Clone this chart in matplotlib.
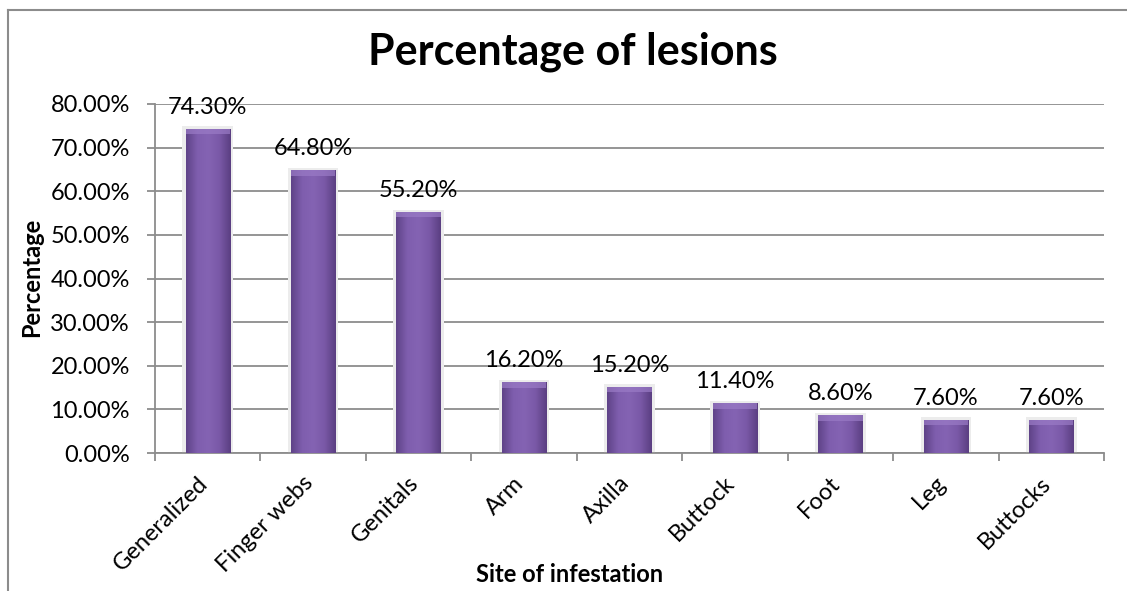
import numpy as np
import matplotlib
matplotlib.use("Agg")
import matplotlib.pyplot as plt
from matplotlib.transforms import ScaledTranslation
from matplotlib.colors import LinearSegmentedColormap
from matplotlib.patches import Rectangle

sites = ["Generalized", "Finger webs", "Genitals", "Arm", "Axilla",
         "Buttock", "Foot", "Leg", "Buttocks"]
pct = [74.3, 64.8, 55.2, 16.2, 15.2, 11.4, 8.6, 7.6, 7.6]
yticks = [0, 10, 20, 30, 40, 50, 60, 70, 80]

plt.rcParams['font.family'] = ['Lato', 'DejaVu Sans']
fs = 17

fig = plt.figure(figsize=(11.27, 5.91), dpi=100)
ax = fig.add_axes([155/1127, 1 - 453/591, (1104 - 155)/1127, (453 - 104)/591])

x = np.arange(len(sites))
w = 0.42
# soft light halo behind bars
ax.bar(x, [v + 0.6 for v in pct], width=w + 0.06, color='#ececec', edgecolor='none', zorder=1.5)
bars = ax.bar(x, pct, width=w, color='#7a58a5', edgecolor='none', zorder=2)

# horizontal shading on each bar (darker edges, lighter middle)
cmap = LinearSegmentedColormap.from_list("bev", ["#5f4388", "#7f5eae", "#8463b3", "#7a59a7", "#5b3f82"])
grad = np.linspace(0, 1, 64).reshape(1, -1)
for b in bars:
    bx, bw, bh = b.get_x(), b.get_width(), b.get_height()
    im = ax.imshow(grad, cmap=cmap, aspect='auto', extent=[bx, bx + bw, 0, bh],
                   zorder=3, interpolation='bicubic')
    im.set_clip_path(b)
    # subtle lighter bevel at the top
    ax.add_patch(Rectangle((bx, bh - 1.2), bw, 1.2,
                           facecolor='#9a7bc6', edgecolor='none', zorder=4, alpha=0.7))

for xi, v in zip(x, pct):
    ax.annotate(f"{v:.2f}%", (xi, v), xytext=(0, 8), textcoords='offset points',
                ha='center', va='bottom', fontsize=fs, color='black')

ax.set_xlim(-0.5, len(sites) - 0.5)
ax.set_ylim(0, 80)
ax.set_yticks(yticks)
ax.set_yticklabels([f"{t:.2f}%" for t in yticks], fontsize=fs)
ax.yaxis.grid(True, color='#8c8c8c', linewidth=1.3, zorder=0)
ax.set_axisbelow(True)

ax.set_xticks(x)
ax.set_xticklabels(sites, rotation=45, ha='right', rotation_mode='anchor', fontsize=fs)
ax.set_xticks(np.arange(len(sites) + 1) - 0.5, minor=True)
ax.tick_params(axis='x', which='major', length=0, pad=14)
ax.tick_params(axis='x', which='minor', length=6, width=1.3, color='#8c8c8c')
ax.tick_params(axis='y', length=6, width=1.3, color='#8c8c8c', pad=12)
off = ScaledTranslation(-8/72, 0, fig.dpi_scale_trans)
for lab in ax.get_xticklabels():
    lab.set_transform(lab.get_transform() + off)

for s in ['top', 'right']:
    ax.spines[s].set_visible(False)
for s in ['left', 'bottom']:
    ax.spines[s].set_color('#8c8c8c')
    ax.spines[s].set_linewidth(1.3)

fig.text(573/1127, 1 - 52/591, "Percentage of lesions", ha='center', va='center',
         fontsize=31, fontweight='bold')
fig.text(32/1127, 1 - 277/591, "Percentage", rotation=90, ha='center', va='center',
         fontsize=fs, fontweight='bold')
fig.text(570/1127, 1 - 575/591, "Site of infestation", ha='center', va='center',
         fontsize=fs, fontweight='bold')

# outer chart border (left and top visible)
fig.add_artist(plt.Line2D([8/1127, 8/1127], [0, 1 - 10/591], transform=fig.transFigure,
                          color='#8c8c8c', linewidth=1.5))
fig.add_artist(plt.Line2D([8/1127, 1], [1 - 10/591, 1 - 10/591], transform=fig.transFigure,
                          color='#8c8c8c', linewidth=1.5))

fig.savefig("out.png", dpi=100)
